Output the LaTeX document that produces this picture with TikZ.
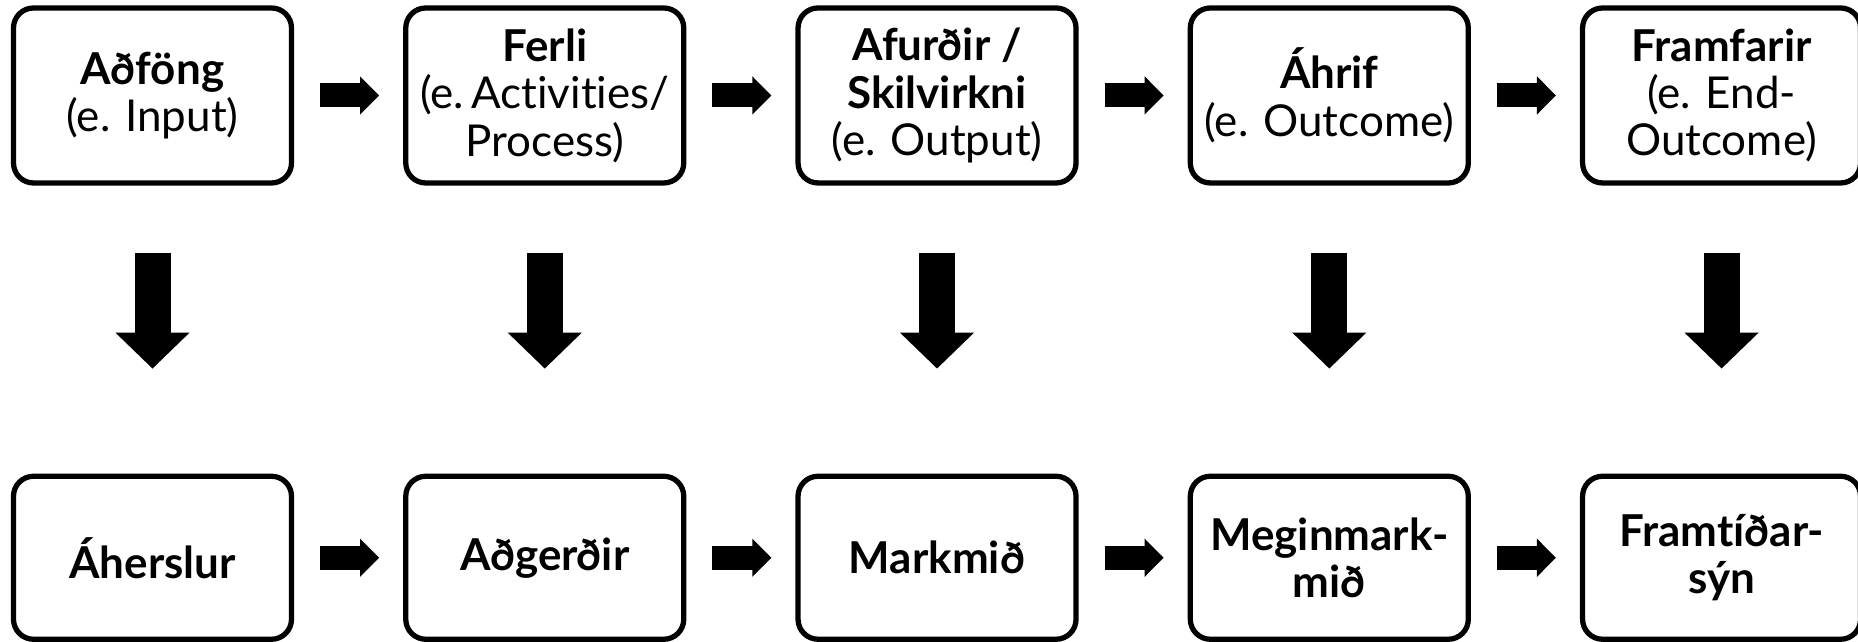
\documentclass[tikz,border=0pt]{standalone}
\usepackage{fontspec}
\setmainfont[Ligatures=NoCommon]{Lato}
\usepackage{tikz}
\usetikzlibrary{positioning}
\usetikzlibrary{arrows.meta}

\begin{document}
\begin{tikzpicture}[box/.style={rectangle, draw, line width=1.5pt, rounded corners=2mm, minimum width=2.78cm, align=center, inner sep=.5mm, font=\fontsize{12.5}{13.5}\selectfont},
                    top/.style={box, minimum height=1.75cm},
                    bot/.style={box, minimum height=1.63cm},
                    flow/.style={line width=2.4mm, -{Triangle[length=1.9mm 0 0, width=3.7mm 0 0]}, shorten <=2.6mm, shorten >=2.4mm},
                    down/.style={line width=3.6mm, -{Triangle[length=3.6mm 0 0, width=7.2mm 0 0]}, shorten <=6.7mm, shorten >=10.5mm}]
\useasboundingbox (0,0) rectangle (18.58,6.42);
\node (input) [top] at (1.525,5.465) {\textbf{Aðföng}\\(e. Input)};
\node (process) [top, right=1.09cm of input] {\textbf{Ferli}\\(e.\,Activities/\\Process)};
\node (output) [top, right=1.09cm of process] {\textbf{Afurðir /}\\\textbf{Skilvirkni}\\(e. Output)};
\node (outcome) [top, right=1.09cm of output] {\textbf{Áhrif}\\(e. Outcome)};
\node (endoutcome) [top, right=1.09cm of outcome] {\textbf{Framfarir}\\(e. End-\\Outcome)};
\node (focus) [bot, below=2.88cm of input] {\textbf{Áherslur}};
\node (actions) [bot, below=2.88cm of process] {\textbf{Aðgerðir}};
\node (goals) [bot, below=2.88cm of output] {\textbf{Markmið}};
\node (maingoal) [bot, below=2.88cm of outcome] {\textbf{Meginmark-}\\\textbf{mið}};
\node (vision) [bot, below=2.88cm of endoutcome] {\textbf{Framtíðar-}\\\textbf{sýn}};
\draw [flow] (input) -- (process);
\draw [flow] (process) -- (output);
\draw [flow] (output) -- (outcome);
\draw [flow] (outcome) -- (endoutcome);
\draw [flow] (focus) -- (actions);
\draw [flow] (actions) -- (goals);
\draw [flow] (goals) -- (maingoal);
\draw [flow] (maingoal) -- (vision);
\draw [down] (input) -- (focus);
\draw [down] (process) -- (actions);
\draw [down] (output) -- (goals);
\draw [down] (outcome) -- (maingoal);
\draw [down] (endoutcome) -- (vision);
\end{tikzpicture}
\end{document}
